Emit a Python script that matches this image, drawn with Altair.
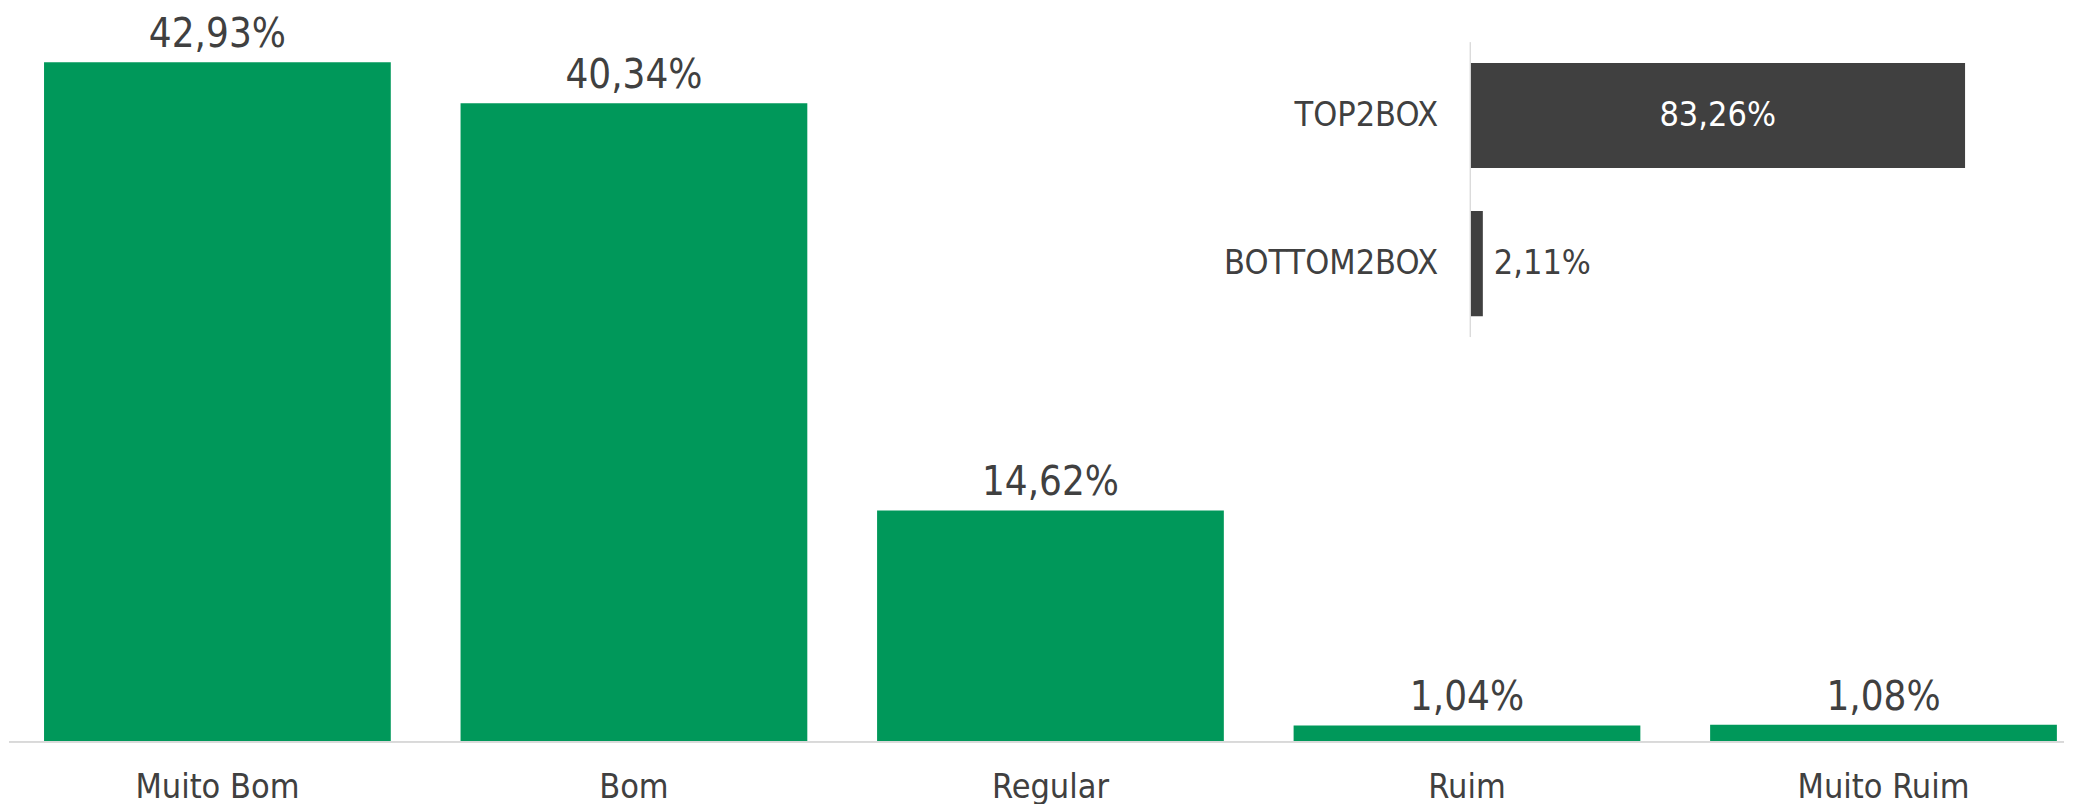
import altair as alt
import pandas as pd

# ---- data -------------------------------------------------------------
categories = ["Muito Bom", "Bom", "Regular", "Ruim", "Muito Ruim"]
values = [42.93, 40.34, 14.62, 1.04, 1.08]

box_categories = ["TOP2BOX", "BOTTOM2BOX"]
box_values = [83.26, 2.11]


def fmt(v):
    return f"{v:.2f}".replace(".", ",") + "%"


main_df = pd.DataFrame({
    "cat": categories,
    "val": values,
    "label": [fmt(v) for v in values],
})
box_df = pd.DataFrame({
    "cat": box_categories,
    "val": box_values,
    "label": [fmt(v) for v in box_values],
    "mid": [v / 2 for v in box_values],
})

GREEN = "#00985A"
DARK = "#404040"
TEXT = "#404040"
GRID = "#D9D9D9"
FONT = "DejaVu Sans Condensed, DejaVu Sans"

W = 2057
H = 796

# ---- main vertical bar chart -------------------------------------------
x_main_scale = alt.Scale(paddingInner=0.1675, paddingOuter=0.0518, align=0.835)
y_main_scale = alt.Scale(domain=[-3.914, 46.34], nice=False, zero=False)

x_main = alt.X("cat:N", sort=categories, axis=None, scale=x_main_scale)
y_main = alt.Y("val:Q", axis=None, scale=y_main_scale)

base = alt.Chart(main_df)

bars = base.mark_bar(color=GREEN).encode(x=x_main, y=y_main, y2=alt.Y2(datum=0))

value_labels = base.mark_text(
    font=FONT, fontSize=40, color=TEXT, baseline="alphabetic", dy=-15
).encode(x=x_main, y=y_main, text="label:N")

cat_labels = base.mark_text(
    font=FONT, fontSize=34, color=TEXT, baseline="alphabetic"
).encode(x=x_main, y=alt.value(790), text="cat:N")

baseline_rule = base.mark_rule(color=GRID, strokeWidth=1.5).encode(
    y=alt.value(734), x=alt.value(1), x2=alt.value(W)
)

main_layer = alt.layer(bars, baseline_rule, value_labels, cat_labels)

# ---- inset horizontal bar chart ----------------------------------------
x_box_scale = alt.Scale(domain=[-246.08, 99.91], nice=False, zero=False)
y_box_scale = alt.Scale(range=[34, 329], paddingInner=0.29, paddingOuter=0.14)

x_box = alt.X("val:Q", axis=None, scale=x_box_scale)
y_box = alt.Y("cat:N", sort=box_categories, axis=None, scale=y_box_scale)

ibase = alt.Chart(box_df)

ibars = ibase.mark_bar(color=DARK).encode(x=x_box, x2=alt.X2(datum=0), y=y_box)

iaxis = ibase.mark_rule(color=GRID, strokeWidth=1).encode(
    x=alt.value(1463), y=alt.value(34), y2=alt.value(329)
)

icat = ibase.mark_text(
    font=FONT, fontSize=34, color=TEXT, align="right", baseline="middle"
).encode(x=alt.value(1431), y=y_box, text="cat:N")

inside = ibase.transform_filter(alt.datum.val > 10).mark_text(
    font=FONT, fontSize=34, color="white", align="center", baseline="middle"
).encode(x=alt.X("mid:Q", axis=None, scale=x_box_scale), y=y_box, text="label:N")

outside = ibase.transform_filter(alt.datum.val <= 10).mark_text(
    font=FONT, fontSize=34, color=TEXT, align="left", baseline="middle", dx=11
).encode(x=x_box, y=y_box, text="label:N")

inset_layer = alt.layer(ibars, iaxis, icat, inside, outside)

chart = alt.layer(main_layer, inset_layer).resolve_scale(
    x="independent", y="independent"
).properties(
    width=W, height=H, padding=0
).configure_view(stroke=None)

chart.save("out.html", embed_options={"renderer": "svg", "actions": False})
